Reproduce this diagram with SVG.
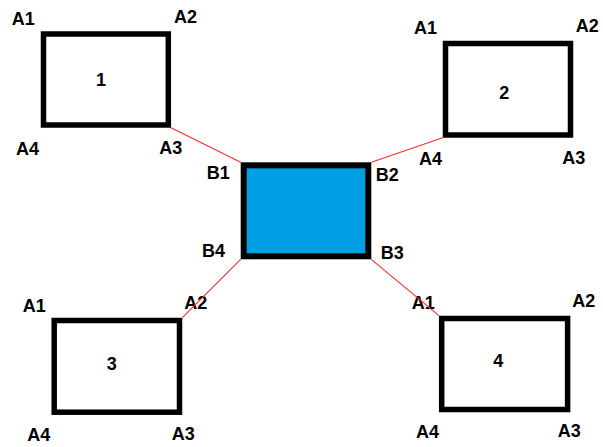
<svg xmlns="http://www.w3.org/2000/svg" width="603" height="447" viewBox="0 0 603 447">
<style>
.box{fill:#ffffff;stroke:#000000;stroke-width:5.5}
.center{fill:#009FE3;stroke:#000000;stroke-width:6}
.lbl{font-family:"Liberation Sans",Arial,sans-serif;font-size:18px;font-weight:bold;fill:#000000}
.num{font-family:"Liberation Sans",Arial,sans-serif;font-size:18px;font-weight:bold;fill:#000000;text-anchor:middle}
.conn{stroke:#FF2A2A;stroke-width:1.1;fill:none}
</style>
<rect width="603" height="447" fill="#ffffff"/>
<g id="node1">
<rect class="box" x="43.5" y="34" width="124.8" height="91"/>
<text class="num" x="101" y="86">1</text>
<text class="lbl" x="11.7" y="25">A1</text>
<text class="lbl" x="174" y="22.7">A2</text>
<text class="lbl" x="159.3" y="154.3">A3</text>
<text class="lbl" x="16" y="155">A4</text>
</g>
<g id="node2">
<rect class="box" x="445.5" y="43.5" width="125" height="91.5"/>
<text class="num" x="504.3" y="98.7">2</text>
<text class="lbl" x="414" y="34.3">A1</text>
<text class="lbl" x="575.7" y="31.7">A2</text>
<text class="lbl" x="562.3" y="164.3">A3</text>
<text class="lbl" x="419" y="165">A4</text>
</g>
<g id="center">
<rect class="center" x="243.7" y="165.3" width="124.6" height="91"/>
<text class="lbl" x="206.7" y="179.3">B1</text>
<text class="lbl" x="375.7" y="180.7">B2</text>
<text class="lbl" x="380.7" y="259">B3</text>
<text class="lbl" x="202" y="257.3">B4</text>
</g>
<g id="node3">
<rect class="box" x="54.2" y="320.5" width="125.3" height="91.7"/>
<text class="num" x="111.7" y="370">3</text>
<text class="lbl" x="22.7" y="311.7">A1</text>
<text class="lbl" x="184.3" y="309">A2</text>
<text class="lbl" x="171.7" y="440">A3</text>
<text class="lbl" x="27.3" y="440.7">A4</text>
</g>
<g id="node4">
<rect class="box" x="441.7" y="318.5" width="125.9" height="91"/>
<text class="num" x="498.3" y="367.3">4</text>
<text class="lbl" x="411.7" y="309">A1</text>
<text class="lbl" x="572.3" y="306.7">A2</text>
<text class="lbl" x="557.7" y="437">A3</text>
<text class="lbl" x="416" y="437.7">A4</text>
</g>
<g id="connectors">
<line class="conn" x1="171" y1="127.7" x2="240.7" y2="162.3"/>
<line class="conn" x1="442.7" y1="137.7" x2="371.3" y2="162.3"/>
<line class="conn" x1="240.7" y1="259.3" x2="182.3" y2="317.7"/>
<line class="conn" x1="371.3" y1="259.3" x2="439" y2="315.7"/>
</g>
</svg>
